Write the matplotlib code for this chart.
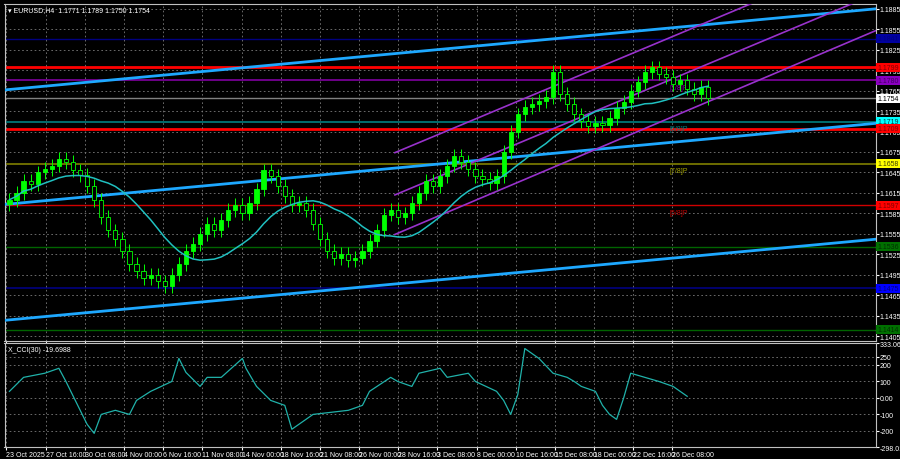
import numpy as np
import pandas as pd
import matplotlib
matplotlib.use("Agg")
import matplotlib.pyplot as plt

plt.rcParams['font.family'] = ['Liberation Sans', 'DejaVu Sans']

# H4 closes
closes = [1.1605, 1.1615, 1.1633, 1.1628, 1.1645, 1.1650, 1.1655, 1.1665, 1.1660, 1.1648,
          1.1641, 1.1625, 1.1605, 1.1580, 1.1560, 1.1547, 1.1530, 1.1511, 1.1500, 1.1490,
          1.1495, 1.1485, 1.1478, 1.1495, 1.1511, 1.1530, 1.1540, 1.1555, 1.1569, 1.1560,
          1.1575, 1.1590, 1.1597, 1.1585, 1.1600, 1.1620, 1.1648, 1.1640, 1.1625, 1.1610,
          1.1597, 1.1600, 1.1590, 1.1570, 1.1547, 1.1530, 1.1519, 1.1525, 1.1516, 1.1520,
          1.1530, 1.1545, 1.1560, 1.1583, 1.1590, 1.1580, 1.1585, 1.1600, 1.1615, 1.1633,
          1.1625, 1.1640, 1.1655, 1.1669, 1.1660, 1.1650, 1.1640, 1.1635, 1.1629, 1.1640,
          1.1675, 1.1705, 1.1730, 1.1741, 1.1745, 1.1750, 1.1756, 1.1792, 1.1760, 1.1745,
          1.1730, 1.1720, 1.1713, 1.1718, 1.1715, 1.1725, 1.1740, 1.1748, 1.1765, 1.1777,
          1.1792, 1.1799, 1.1790, 1.1785, 1.1775, 1.1780, 1.1768, 1.1760, 1.1770, 1.1754]
first_open = 1.1598

cci_x = [0, 2, 5, 7, 8, 11, 12, 13, 15, 17, 18, 20, 23, 24, 25, 27, 28, 30, 33, 33.5, 35, 37,
         39, 40, 41, 43, 48, 50, 51, 54, 55, 57, 58, 61, 62, 65, 66, 69, 70, 71, 72, 73, 75,
         77, 79, 80, 81, 83, 84, 85, 86, 87, 88, 90, 92, 94, 96]
cci_v = [40, 125, 150, 180, 100, -160, -215, -100, -75, -100, -15, 40, 100, 240, 155, 70, 125,
         125, 240, 180, 70, -15, -45, -190, -160, -100, -75, -45, 40, 125, 100, 70, 150, 180,
         125, 150, 100, 40, -15, -100, 20, 300, 240, 150, 125, 100, 70, 40, -45, -100, -130,
         0, 150, 125, 100, 70, 10]

# horizontal levels: price, color, line width, label bg, label text color
levels = [(1.1841, '#000080', 1.0, '#0000a0', '#000080'),
          (1.1799, '#ff0000', 2.0, '#ff0000', '#800000'),
          (1.1780, '#8000a0', 1.2, '#8a00c0', '#400060'),
          (1.1754, '#808080', 1.0, '#ffffff', '#000000'),
          (1.1719, '#008080', 1.2, '#00ffff', '#004040'),
          (1.1709, '#ff0000', 2.0, '#ff0000', '#800000'),
          (1.1658, '#808000', 1.2, '#ffff00', '#404000'),
          (1.1597, '#d00000', 1.0, '#ff0000', '#800000'),
          (1.1536, '#006400', 1.0, '#007000', '#003000'),
          (1.1475, '#000080', 1.2, '#0000ff', '#000080'),
          (1.1414, '#006400', 1.0, '#007000', '#003000')]
murrey = [(1.1719, '[6/8]P', '#008080'), (1.1658, '[7/8]P', '#a0a000'),
          (1.1597, '[5/8]P', '#c00000'), (1.1780, '[1/8]P', '#8000a0')]

# trend lines (bar, price)
cyan_lines = [((-0.7, 1.1766), (122.7, 1.1885)),
              ((-0.7, 1.1598), (122.7, 1.1717)),
              ((-0.7, 1.1428), (122.7, 1.1547))]
purple_lines = [((54.6, 1.1554), (122.7, 1.1853)),
                ((54.6, 1.1612), (122.7, 1.1907)),
                ((54.6, 1.1674), (122.7, 1.1969))]

xlabels = ['23 Oct 2025', '27 Oct 16:00', '30 Oct 08:00', '4 Nov 00:00', '6 Nov 16:00',
           '11 Nov 08:00', '14 Nov 00:00', '18 Nov 16:00', '21 Nov 08:00', '26 Nov 00:00',
           '28 Nov 16:00', '3 Dec 08:00', '8 Dec 00:00', '10 Dec 16:00', '15 Dec 08:00',
           '18 Dec 00:00', '22 Dec 16:00', '26 Dec 08:00']

BG = 'black'
GRID = '#7a7a7a'
FS = 5
fig = plt.figure(figsize=(9, 4.6), dpi=100, facecolor=BG)
ax = fig.add_axes([0.005, 0.257, 0.968, 0.732], facecolor=BG)
ax2 = fig.add_axes([0.005, 0.026, 0.968, 0.226], facecolor=BG, sharex=ax)

n = len(closes)
x = np.arange(n)
opens = [first_open] + closes[:-1]
ymin, ymax = 1.1398, 1.1892
ax.set_ylim(ymin, ymax)
ax.set_xlim(-0.7, 122.7)

yt = np.arange(1.1405, 1.1886, 0.003)
ax.set_yticks(yt)
xt = [(2 + 39.4 * k - 5) / 7.1 for k in range(len(xlabels))]
ax.set_xticks(xt)
for a in (ax, ax2):
    a.grid(True, color=GRID, linestyle=(0, (2, 3)), linewidth=0.6)
    for s in a.spines.values():
        s.set_color('#c0c0c0')
    a.tick_params(colors='white', labelsize=FS, length=2, pad=1)
    a.yaxis.tick_right()
ax.set_yticklabels([f'{v:.4f}' for v in yt])
ax.tick_params(axis='x', labelbottom=False)

for p, c, lw, bg, tc in levels:
    ax.axhline(p, color=c, lw=lw, zorder=1)
for p, t, c in murrey:
    ax.text(93.5, p - 0.0005, t, color=c, fontsize=FS, va='top', zorder=2)
for (x0, y0), (x1, y1) in cyan_lines:
    ax.plot([x0, x1], [y0, y1], color='#1ea8ff', lw=2, zorder=3)
for (x0, y0), (x1, y1) in purple_lines:
    ax.plot([x0, x1], [y0, y1], color='#9932cc', lw=1.2, zorder=3)

# candles
wick = 0.0010
for i in range(n):
    o, c = opens[i], closes[i]
    lo, hi = min(o, c) - wick, max(o, c) + wick
    ax.vlines(i, lo, hi, color='#00ff00', lw=0.7, zorder=4)
    fc = '#00ff00' if c >= o else 'black'
    ax.bar(i, max(abs(c - o), 0.00015), bottom=min(o, c), width=0.6,
           color=fc, edgecolor='#00ff00', lw=0.6, zorder=5)

ma = pd.Series(closes).rolling(14, min_periods=1).mean()
ax.plot(x, ma, color='#20c0c0', lw=1.1, zorder=6)

# price tags on right axis
for p, c, lw, bg, tc in levels:
    ax.text(1.002, p, f'{p:.4f}', transform=ax.get_yaxis_transform(), fontsize=FS,
            color=tc, va='center', ha='left',
            bbox=dict(boxstyle='square,pad=0.15', fc=bg, ec='none'), clip_on=False)

ax.text(0.004, 0.993, '\u25be EURUSD,H4  1.1771 1.1789 1.1750 1.1754', transform=ax.transAxes,
        color='white', fontsize=FS, va='top', ha='left')

# CCI panel
ax2.set_ylim(-298.013, 333.061)
ax2.set_yticks([-298.013, -200, -100, 0, 100, 200, 250, 333.061])
ax2.set_yticklabels(['-298.013', '-200', '-100', '0.00', '100', '200', '250', '333.061'])
ax2.plot(cci_x, cci_v, color='#20b2aa', lw=0.9)
ax2.text(0.004, 0.97, 'X_CCI(30) -19.6988', transform=ax2.transAxes, color='white',
         fontsize=FS, va='top')
ax2.set_xticks(xt)
ax2.set_xticklabels(xlabels, ha='left')

fig.savefig('out.png', dpi=100, facecolor=BG)
